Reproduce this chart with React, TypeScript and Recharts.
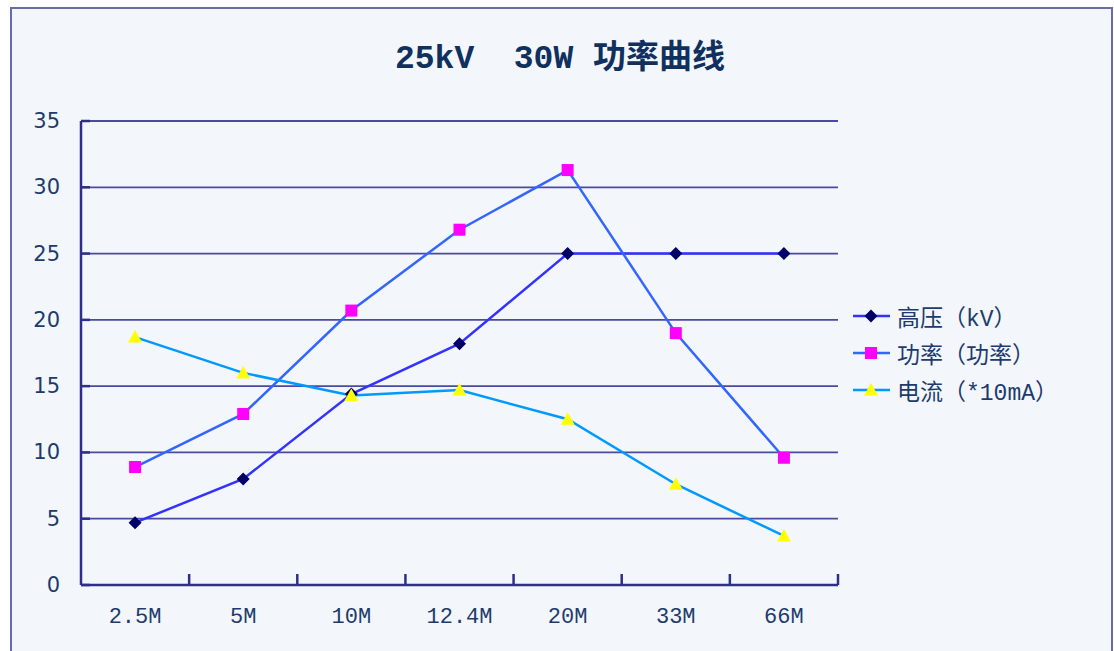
import React from 'react';
import { CartesianGrid, Line, LineChart, XAxis, YAxis } from 'recharts';

const categories = ['2.5M', '5M', '10M', '12.4M', '20M', '33M', '66M'];
const voltage = [4.7, 8.0, 14.4, 18.2, 25, 25, 25];
const power = [8.9, 12.9, 20.7, 26.8, 31.3, 19.0, 9.6];
const current = [18.7, 16.0, 14.3, 14.7, 12.5, 7.6, 3.7];
const yTicks = [0, 5, 10, 15, 20, 25, 30, 35];

const data = categories.map((name, i) => ({
  name,
  voltage: voltage[i],
  power: power[i],
  current: current[i]
}));

const W = 1114;
const H = 651;
const yAxisWidth = 40;
const xAxisHeight = 40;
const margin = { top: 121, right: 276, bottom: H - 585 - xAxisHeight, left: 81 - yAxisWidth };
const plotWidth = W - margin.left - yAxisWidth - margin.right;
const step = plotWidth / categories.length;

const textColor = '#1d3c6c';
const axisColor = '#2e2e8c';
const mono = '"Liberation Mono", "Noto Sans CJK SC", monospace';

const Diamond = (props: any) => {
  const { cx, cy } = props;
  if (cx == null || cy == null) return null;
  const r = 6.5;
  return <polygon points={`${cx},${cy - r} ${cx + r},${cy} ${cx},${cy + r} ${cx - r},${cy}`} fill='#000066' />;
};

const Square = (props: any) => {
  const { cx, cy } = props;
  if (cx == null || cy == null) return null;
  return <rect x={cx - 6} y={cy - 6} width={12} height={12} fill='#ff00ff' />;
};

const Triangle = (props: any) => {
  const { cx, cy } = props;
  if (cx == null || cy == null) return null;
  return <polygon points={`${cx},${cy - 7} ${cx + 7},${cy + 5.5} ${cx - 7},${cy + 5.5}`} fill='#ffff00' />;
};

const series = [
  { key: 'voltage', name: '高压（kV）', color: '#3333ff', dot: Diamond },
  { key: 'power', name: '功率（功率）', color: '#3366ff', dot: Square },
  { key: 'current', name: '电流（*10mA）', color: '#0099ff', dot: Triangle }
];

const YTick = (props: any) => {
  const { x, y, payload } = props;
  return (
    <g>
      <line x1={x + 21} y1={y} x2={x + 30} y2={y} stroke={axisColor} strokeWidth={2.5} />
      <text x={x} y={y} dy={7} textAnchor='end' fill={textColor} fontSize={21} fontFamily='"DejaVu Sans", sans-serif'>
        {payload.value}
      </text>
    </g>
  );
};

const XTick = (props: any) => {
  const { x, y, payload } = props;
  const axisY = y - 20;
  return (
    <g>
      <line x1={x + step / 2} y1={axisY} x2={x + step / 2} y2={axisY - 11} stroke={axisColor} strokeWidth={2.5} />
      <text x={x} y={y} dy={18} textAnchor='middle' fill={textColor} fontSize={22} fontFamily={mono}>
        {payload.value}
      </text>
    </g>
  );
};

export default function App() {
  return (
    <div style={{ position: 'absolute', left: 0, top: 0, width: W, height: H, background: '#ffffff', overflow: 'hidden' }}>
      <div
        style={{
          position: 'absolute',
          left: 10,
          top: 7,
          width: W - 10 - 5,
          height: H,
          background: '#f3f6fb',
          border: '2px solid #6a6ab0'
        }}
      />
      <div
        style={{
          position: 'absolute',
          left: 0,
          top: 30,
          width: 1120,
          textAlign: 'center',
          fontFamily: mono,
          fontWeight: 'bold',
          fontSize: 33,
          color: '#10305e',
          whiteSpace: 'pre'
        }}
      >
        {'25kV  30W 功率曲线'}
      </div>
      <div style={{ position: 'absolute', left: 0, top: 0 }}>
        <LineChart width={W} height={H} data={data} margin={margin}>
          <CartesianGrid vertical={false} stroke='#4a4aa0' strokeWidth={1.8} />
          <XAxis
            dataKey='name'
            scale='band'
            tick={<XTick />}
            tickLine={false}
            tickSize={0}
            tickMargin={20}
            height={xAxisHeight}
            axisLine={{ stroke: axisColor, strokeWidth: 2.5 }}
            interval={0}
          />
          <YAxis
            domain={[0, 35]}
            ticks={yTicks}
            width={yAxisWidth}
            tick={<YTick />}
            tickLine={false}
            tickSize={0}
            tickMargin={21}
            axisLine={{ stroke: axisColor, strokeWidth: 2.5 }}
            interval={0}
          />
          {series.map((s) => (
            <Line
              key={s.key}
              type='linear'
              dataKey={s.key}
              name={s.name}
              stroke={s.color}
              strokeWidth={2.5}
              dot={<s.dot />}
              activeDot={false}
              isAnimationActive={false}
            />
          ))}
        </LineChart>
      </div>
      <div style={{ position: 'absolute', left: 851, top: 297, fontFamily: mono, fontSize: 23, color: textColor }}>
        {series.map((s) => (
          <div key={s.key} style={{ display: 'flex', alignItems: 'center', height: 37 }}>
            <svg width={40} height={20} style={{ marginRight: 6 }}>
              <line x1={2} y1={10} x2={39} y2={10} stroke={s.color} strokeWidth={2.5} />
              <s.dot cx={20} cy={10} />
            </svg>
            <span>{s.name}</span>
          </div>
        ))}
      </div>
    </div>
  );
}
